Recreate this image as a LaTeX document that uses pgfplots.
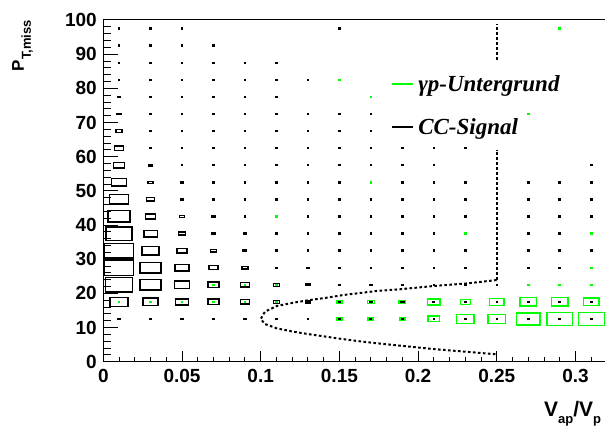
\documentclass[border=0pt]{standalone}
\usepackage{pgfplots}
\pgfplotsset{compat=1.18}
\usepackage{pgfplotstable}
\usepackage{fontspec}
\setmainfont{Liberation Sans}
\newfontfamily\legendfont{Liberation Serif}
\definecolor{rootgreen}{rgb}{0,1,0}

% half size of one bin in pt (x: 0.02 wide, y: 5 high)
\newcommand\binhalfw{15.74}
\newcommand\binhalfh{8.54}
% box mark whose outer size is f times the bin size
\pgfdeclareplotmark{binbox}{%
  \pgfmathsetmacro\bw{max(\boxf*\binhalfw-0.7,0.6)}%
  \pgfmathsetmacro\bh{max(\boxf*\binhalfh-0.7,0.5)}%
  \pgfpathrectanglecorners{\pgfpoint{-\bw pt}{-\bh pt}}{\pgfpoint{\bw pt}{\bh pt}}%
  \pgfusepathqstroke}

% CC signal: bin centre and relative box size
\pgfplotstableread{
x     y     f
0.01  97.5  0.04
0.03  97.5  0.04
0.05  97.5  0.04
0.15  97.5  0.04
0.01  92.5  0.04
0.03  92.5  0.04
0.05  92.5  0.04
0.07  92.5  0.04
0.01  87.5  0.04
0.03  87.5  0.04
0.05  87.5  0.04
0.07  87.5  0.04
0.09  87.5  0.04
0.11  87.5  0.04
0.01  82.5  0.08
0.03  82.5  0.04
0.05  82.5  0.04
0.07  82.5  0.04
0.09  82.5  0.04
0.11  82.5  0.04
0.13  82.5  0.04
0.01  77.5  0.13
0.03  77.5  0.04
0.05  77.5  0.04
0.07  77.5  0.04
0.09  77.5  0.04
0.11  77.5  0.04
0.01  72.5  0.17
0.03  72.5  0.04
0.05  72.5  0.04
0.07  72.5  0.04
0.09  72.5  0.04
0.11  72.5  0.04
0.13  72.5  0.04
0.15  72.5  0.04
0.17  72.5  0.04
0.01  67.5  0.23
0.03  67.5  0.04
0.05  67.5  0.04
0.07  67.5  0.04
0.09  67.5  0.04
0.11  67.5  0.04
0.13  67.5  0.04
0.15  67.5  0.04
0.17  67.5  0.04
0.01  62.5  0.33
0.03  62.5  0.12
0.05  62.5  0.04
0.07  62.5  0.04
0.09  62.5  0.04
0.11  62.5  0.04
0.13  62.5  0.04
0.15  62.5  0.04
0.17  62.5  0.04
0.19  62.5  0.03
0.21  62.5  0.03
0.23  62.5  0.03
0.01  57.5  0.41
0.03  57.5  0.15
0.05  57.5  0.05
0.07  57.5  0.04
0.09  57.5  0.04
0.11  57.5  0.04
0.13  57.5  0.04
0.15  57.5  0.04
0.17  57.5  0.04
0.19  57.5  0.04
0.21  57.5  0.04
0.31  57.5  0.04
0.01  52.5  0.52
0.03  52.5  0.20
0.05  52.5  0.11
0.07  52.5  0.05
0.09  52.5  0.04
0.11  52.5  0.04
0.13  52.5  0.04
0.15  52.5  0.04
0.19  52.5  0.04
0.21  52.5  0.04
0.23  52.5  0.04
0.27  52.5  0.04
0.29  52.5  0.04
0.31  52.5  0.04
0.01  47.5  0.64
0.03  47.5  0.29
0.05  47.5  0.14
0.07  47.5  0.10
0.09  47.5  0.05
0.11  47.5  0.04
0.13  47.5  0.04
0.15  47.5  0.04
0.17  47.5  0.04
0.19  47.5  0.04
0.21  47.5  0.04
0.23  47.5  0.04
0.27  47.5  0.04
0.29  47.5  0.04
0.31  47.5  0.04
0.01  42.5  0.75
0.03  42.5  0.37
0.05  42.5  0.20
0.07  42.5  0.13
0.09  42.5  0.06
0.13  42.5  0.04
0.15  42.5  0.04
0.17  42.5  0.04
0.19  42.5  0.04
0.21  42.5  0.04
0.23  42.5  0.04
0.27  42.5  0.04
0.29  42.5  0.04
0.31  42.5  0.04
0.01  37.5  0.87
0.03  37.5  0.47
0.05  37.5  0.27
0.07  37.5  0.14
0.09  37.5  0.11
0.11  37.5  0.04
0.13  37.5  0.04
0.15  37.5  0.04
0.17  37.5  0.04
0.19  37.5  0.04
0.21  37.5  0.04
0.27  37.5  0.04
0.29  37.5  0.04
0.01  32.5  0.95
0.03  32.5  0.59
0.05  32.5  0.35
0.07  32.5  0.22
0.09  32.5  0.16
0.11  32.5  0.09
0.13  32.5  0.04
0.15  32.5  0.04
0.17  32.5  0.04
0.19  32.5  0.03
0.21  32.5  0.03
0.23  32.5  0.03
0.27  32.5  0.03
0.29  32.5  0.03
0.31  32.5  0.03
0.01  27.5  0.98
0.03  27.5  0.71
0.05  27.5  0.48
0.07  27.5  0.32
0.09  27.5  0.24
0.11  27.5  0.12
0.13  27.5  0.12
0.15  27.5  0.09
0.17  27.5  0.04
0.19  27.5  0.04
0.21  27.5  0.04
0.23  27.5  0.04
0.27  27.5  0.04
0.29  27.5  0.04
0.01  22.5  0.91
0.03  22.5  0.71
0.05  22.5  0.54
0.07  22.5  0.40
0.09  22.5  0.32
0.11  22.5  0.25
0.13  22.5  0.18
0.15  22.5  0.12
0.17  22.5  0.11
0.19  22.5  0.08
0.21  22.5  0.05
0.23  22.5  0.04
0.25  22.5  0.04
0.01  17.5  0.61
0.03  17.5  0.53
0.05  17.5  0.44
0.07  17.5  0.40
0.09  17.5  0.34
0.11  17.5  0.25
0.13  17.5  0.21
0.15  17.5  0.12
0.17  17.5  0.15
0.19  17.5  0.14
0.21  17.5  0.10
0.23  17.5  0.10
0.25  17.5  0.05
0.27  17.5  0.05
0.29  17.5  0.05
0.31  17.5  0.05
0.01  12.5  0.12
0.03  12.5  0.12
0.05  12.5  0.12
0.07  12.5  0.12
0.09  12.5  0.11
0.11  12.5  0.05
0.13  12.5  0.05
0.15  12.5  0.10
0.17  12.5  0.10
0.19  12.5  0.10
0.21  12.5  0.06
0.23  12.5  0.05
0.25  12.5  0.05
0.27  12.5  0.05
0.29  12.5  0.05
0.31  12.5  0.05
}\sigtable

% gamma-p background
\pgfplotstableread{
x     y     f
0.29  97.5  0.04
0.15  82.5  0.04
0.17  77.5  0.04
0.27  72.5  0.04
0.17  52.5  0.04
0.11  42.5  0.04
0.23  37.5  0.04
0.31  37.5  0.04
0.31  27.5  0.04
0.07  22.5  0.03
0.09  22.5  0.03
0.11  22.5  0.06
0.13  22.5  0.07
0.19  22.5  0.04
0.23  22.5  0.04
0.25  22.5  0.05
0.27  22.5  0.04
0.29  22.5  0.04
0.31  22.5  0.04
0.01  17.5  0.03
0.03  17.5  0.03
0.05  17.5  0.03
0.07  17.5  0.03
0.09  17.5  0.03
0.11  17.5  0.07
0.13  17.5  0.08
0.15  17.5  0.20
0.17  17.5  0.26
0.19  17.5  0.25
0.21  17.5  0.44
0.23  17.5  0.37
0.25  17.5  0.49
0.27  17.5  0.57
0.29  17.5  0.58
0.31  17.5  0.53
0.11  12.5  0.04
0.13  12.5  0.05
0.15  12.5  0.20
0.17  12.5  0.22
0.19  12.5  0.22
0.21  12.5  0.41
0.23  12.5  0.60
0.25  12.5  0.61
0.27  12.5  0.80
0.29  12.5  0.85
0.31  12.5  0.87
}\bkgtable

\newcommand\tlfont{\bfseries\fontsize{19}{19}\selectfont}
\newcommand\sub[1]{\raisebox{-7pt}{\fontsize{13}{13}\selectfont #1}}

\begin{document}
\begin{tikzpicture}
\begin{axis}[
  anchor=south west, at={(0,0)},
  x=1574pt, y=3.417pt,
  xmin=0, xmax=0.32, ymin=0, ymax=100,
  axis line style={line width=1pt},
  tick align=inside, tick pos=left,
  tick style={line width=1pt, black},
  every major x tick/.append style={/pgfplots/major tick length=10.3pt},
  every minor x tick/.append style={/pgfplots/minor tick length=5.2pt},
  every major y tick/.append style={/pgfplots/major tick length=15pt},
  every minor y tick/.append style={/pgfplots/minor tick length=7.5pt},
  xtick={0,0.05,0.1,0.15,0.2,0.25,0.3},
  xticklabels={0,0.05,0.1,0.15,0.2,0.25,0.3},
  minor xtick={0.01,0.02,0.03,0.04,0.06,0.07,0.08,0.09,0.11,0.12,0.13,0.14,0.16,0.17,0.18,0.19,0.21,0.22,0.23,0.24,0.26,0.27,0.28,0.29,0.31},
  ytick={0,10,20,30,40,50,60,70,80,90,100},
  minor ytick={2,4,6,8,12,14,16,18,22,24,26,28,32,34,36,38,42,44,46,48,52,54,56,58,62,64,66,68,72,74,76,78,82,84,86,88,92,94,96,98},
  /pgf/number format/assume math mode=true,
  ticklabel style={font=\tlfont, inner sep=0pt},
  xticklabel style={anchor=north, yshift=-7.3pt},
  yticklabel style={anchor=east, xshift=-6.3pt},
  clip=false,
]
% background boxes
\addplot[only marks, color=rootgreen, mark=binbox,
  mark options={line width=1.4pt, solid},
  visualization depends on={\thisrow{f}\as\boxf}]
  table[x=x, y=y] {\bkgtable};
% signal boxes
\addplot[only marks, color=black, mark=binbox,
  mark options={line width=1.4pt, solid},
  visualization depends on={\thisrow{f}\as\boxf}]
  table[x=x, y=y] {\sigtable};

% cut line
\addplot[black, line width=2pt, dash pattern=on 2.6pt off 2.4pt] coordinates {
  (0.2499,23.9) (0.2309,22.9) (0.2097,22.15) (0.1885,21.2) (0.1737,20.7)
  (0.1631,20.1) (0.1525,19.52) (0.1419,18.73) (0.1313,18.06) (0.1207,17.27)
  (0.1102,16.30) (0.1027,14.63) (0.1000,12.50) (0.1027,11.03) (0.1102,9.77)
  (0.1207,8.78) (0.1313,8.0) (0.1419,7.3) (0.1525,6.6) (0.1631,5.96)
  (0.1737,5.4) (0.1885,4.7) (0.2097,3.7) (0.2309,2.9) (0.2499,2.15)
};
\addplot[black, line width=2pt, dash pattern=on 2.6pt off 2.4pt] coordinates {
  (0.25,23.9) (0.25,62.0)
};
\addplot[black, line width=2pt, dash pattern=on 2.6pt off 2.4pt] coordinates {
  (0.25,88.3) (0.25,98.8)
};

% legend
\draw[rootgreen, line width=1.2pt] (axis cs:0.1834,81.27) -- (axis cs:0.1968,81.27);
\draw[black, line width=1.2pt] (axis cs:0.1834,68.69) -- (axis cs:0.1968,68.69);
\node[anchor=base west, inner sep=0pt, font=\legendfont\bfseries\itshape\fontsize{23}{23}\selectfont]
  at (axis cs:0.2,79.0) {γp-Untergrund};
\node[anchor=base west, inner sep=0pt, font=\legendfont\bfseries\itshape\fontsize{23}{23}\selectfont]
  at (axis cs:0.2,66.35) {CC-Signal};

% axis titles
\node[yshift=-55pt, anchor=base west, inner sep=0pt, font=\bfseries\fontsize{21}{21}\selectfont]
  at (axis cs:0.28,0) {V\sub{ap}/V\sub{p}};
\node[xshift=-79.3pt, rotate=90, anchor=base east, inner sep=0pt, font=\bfseries\fontsize{17}{17}\selectfont]
  at (rel axis cs:0,1) {P\sub{T,miss}};
\end{axis}
\pgfresetboundingbox
\path (-103.3pt,-67.3pt) rectangle (501.7pt,361.7pt);
\end{tikzpicture}
\end{document}
